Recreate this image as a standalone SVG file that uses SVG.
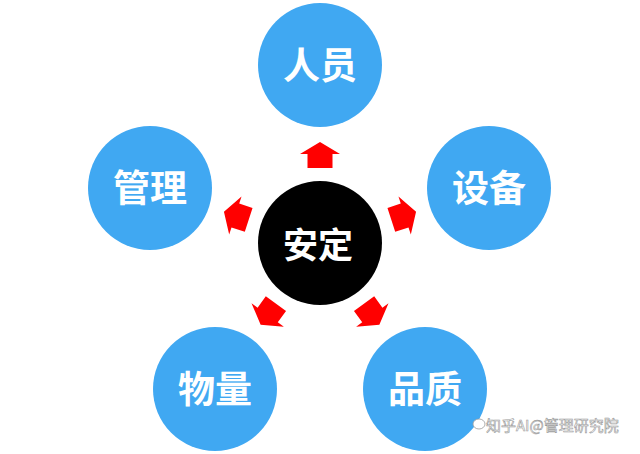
<svg xmlns="http://www.w3.org/2000/svg" xmlns:xlink="http://www.w3.org/1999/xlink" width="640" height="454" viewBox="0 0 640 454">
  <style>
    .blue { fill: #40A8F2; }
    .center { fill: #000000; }
    .lbl { fill: #FFFFFF; font-family: "Noto Sans CJK SC", "Noto Sans", sans-serif; font-weight: 700; font-size: 37px; text-anchor: middle; }
    .arrow { fill: #FF0000; }
    .wm { fill: #FFFFFF; stroke: #9A9A9A; stroke-width: 0.6; font-family: "Noto Sans CJK SC", "Liberation Sans", sans-serif; font-size: 15px; }
  </style>
  <defs>
    <path id="arr" d="M13,0 L1,20 L1,12.5 L-13,12.5 L-13,-12.5 L1,-12.5 L1,-20 Z"/>
  </defs>
  <rect width="640" height="454" fill="#FFFFFF"/>

  <g id="connectors">
    <use xlink:href="#arr" class="arrow" transform="translate(320 243) rotate(-90) translate(88 0)"/>
    <use xlink:href="#arr" class="arrow" transform="translate(320 243) rotate(-18) translate(88 0)"/>
    <use xlink:href="#arr" class="arrow" transform="translate(320 243) rotate(54) translate(88 0)"/>
    <use xlink:href="#arr" class="arrow" transform="translate(320 243) rotate(126) translate(88 0)"/>
    <use xlink:href="#arr" class="arrow" transform="translate(320 243) rotate(198) translate(88 0)"/>
  </g>

  <g id="node-anding">
    <circle class="center" cx="320" cy="243" r="62"/>
    <text class="lbl" x="318" y="258" style="font-size:35px">安定</text>
  </g>
  <g id="node-renyuan">
    <circle class="blue" cx="320" cy="65" r="62"/>
    <text class="lbl" x="320" y="79">人员</text>
  </g>
  <g id="node-shebei">
    <circle class="blue" cx="489" cy="188" r="62"/>
    <text class="lbl" x="489" y="202">设备</text>
  </g>
  <g id="node-pinzhi">
    <circle class="blue" cx="425" cy="389" r="62"/>
    <text class="lbl" x="425" y="403">品质</text>
  </g>
  <g id="node-wuliang">
    <circle class="blue" cx="215" cy="389" r="62"/>
    <text class="lbl" x="215" y="403">物量</text>
  </g>
  <g id="node-guanli">
    <circle class="blue" cx="150" cy="188" r="62"/>
    <text class="lbl" x="150" y="202">管理</text>
  </g>

  <g id="watermark">
    <ellipse cx="479" cy="424" rx="6" ry="5" fill="#FFFFFF" stroke="#9A9A9A" stroke-width="0.8"/>
    <text class="wm" x="486" y="431">知乎AI@管理研究院</text>
  </g>
</svg>
